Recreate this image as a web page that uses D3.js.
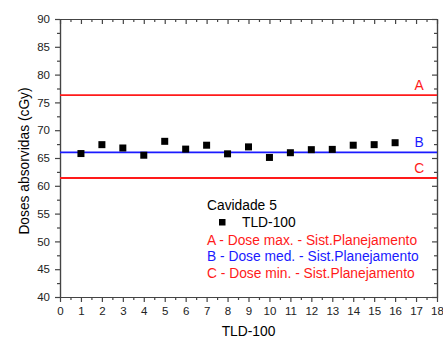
<!DOCTYPE html>
<html>
<head>
<meta charset="utf-8">
<script src="https://cdn.jsdelivr.net/npm/d3@7"></script>
<style>
  body { margin: 0; background: #fff; }
  svg { font-family: "Liberation Sans", Arial, sans-serif; }
</style>
</head>
<body>
<svg id="chart" width="443" height="338"></svg>
<script>
// dados
const tldIds = [1, 2, 3, 4, 5, 6, 7, 8, 9, 10, 11, 12, 13, 14, 15, 16];
const tldDoses = [65.8, 67.4, 66.8, 65.5, 68.0, 66.6, 67.3, 65.75, 67.0, 65.1, 65.95, 66.5, 66.55, 67.3, 67.4, 67.75];
const refLabels = ['A', 'B', 'C'];
const refDoses = [76.3, 66.0, 61.4];
const refColors = ['#ff1a1a', '#1a1aff', '#ff1a1a'];
const legendLines = [
  'A - Dose max. - Sist.Planejamento',
  'B - Dose med. - Sist.Planejamento',
  'C - Dose min. - Sist.Planejamento'
];
const xTicks = d3.range(0, 19, 1);
const yTicks = d3.range(40, 91, 5);

const svg = d3.select('#chart');
const margin = { left: 60, right: 6, top: 19, bottom: 41 };
const width = 443, height = 338;

const x = d3.scaleLinear().domain([0, 18]).range([margin.left, width - margin.right]);
const y = d3.scaleLinear().domain([40, 90]).range([height - margin.bottom, margin.top]);

const axisColor = '#444';
const fs = '13.8px';

// eixos
const xMinor = d3.range(0.5, 18, 1);
const yMinor = d3.range(42.5, 90, 5);

svg.append('g')
  .attr('transform', `translate(0,${y(40)})`)
  .call(d3.axisBottom(x).tickValues(xTicks).tickSize(5).tickSizeOuter(0).tickPadding(5));
svg.append('g')
  .attr('transform', `translate(0,${y(40)})`)
  .call(d3.axisBottom(x).tickValues(xMinor).tickSize(3).tickSizeOuter(0).tickFormat(''));
svg.append('g')
  .attr('transform', `translate(0,${y(90)})`)
  .call(d3.axisBottom(x).tickValues(xTicks).tickSize(5).tickSizeOuter(0).tickFormat(''));
svg.append('g')
  .attr('transform', `translate(0,${y(90)})`)
  .call(d3.axisBottom(x).tickValues(xMinor).tickSize(3).tickSizeOuter(0).tickFormat(''));

svg.append('g')
  .attr('transform', `translate(${x(0)},0)`)
  .call(d3.axisLeft(y).tickValues(yTicks).tickSize(5).tickSizeOuter(0).tickPadding(5));
svg.append('g')
  .attr('transform', `translate(${x(0)},0)`)
  .call(d3.axisLeft(y).tickValues(yMinor).tickSize(3).tickSizeOuter(0).tickFormat(''));
svg.append('g')
  .attr('transform', `translate(${x(18)},0)`)
  .call(d3.axisLeft(y).tickValues(yTicks).tickSize(5).tickSizeOuter(0).tickFormat(''));
svg.append('g')
  .attr('transform', `translate(${x(18)},0)`)
  .call(d3.axisLeft(y).tickValues(yMinor).tickSize(3).tickSizeOuter(0).tickFormat(''));

svg.selectAll('.domain, .tick line').attr('stroke', axisColor).attr('stroke-width', 1.2);
svg.selectAll('.tick text').attr('fill', '#222').style('font-size', '11.5px');

// linhas de referência
refDoses.forEach((d, i) => {
  svg.append('line')
    .attr('x1', x(0)).attr('x2', x(18))
    .attr('y1', y(d)).attr('y2', y(d))
    .attr('stroke', refColors[i]).attr('stroke-width', 1.8);
  svg.append('text')
    .attr('x', x(17.15)).attr('y', y(d) - 5)
    .attr('text-anchor', 'middle')
    .attr('fill', refColors[i])
    .style('font-size', fs)
    .text(refLabels[i]);
});

// pontos TLD
svg.append('g').selectAll('rect')
  .data(tldIds)
  .join('rect')
  .attr('x', (d) => x(d) - 3.5)
  .attr('y', (d, i) => y(tldDoses[i]) - 3.5)
  .attr('width', 7).attr('height', 7)
  .attr('fill', '#000');

// legenda
const lg = svg.append('g').style('font-size', fs);
lg.append('text').attr('x', 207).attr('y', 210).attr('fill', '#000').text('Cavidade 5');
lg.append('rect').attr('x', 219).attr('y', 219).attr('width', 6.5).attr('height', 6.5).attr('fill', '#000');
lg.append('text').attr('x', 242).attr('y', 227).attr('fill', '#000').text('TLD-100');
legendLines.forEach((t, i) => {
  lg.append('text')
    .attr('x', 207).attr('y', 244.5 + i * 16.8)
    .attr('fill', refColors[i])
    .text(t);
});

// títulos dos eixos
svg.append('text')
  .attr('x', (x(0) + x(18)) / 2).attr('y', 336)
  .attr('text-anchor', 'middle')
  .style('font-size', fs)
  .text('TLD-100');
svg.append('text')
  .attr('transform', 'translate(29,161) rotate(-90)')
  .attr('text-anchor', 'middle')
  .style('font-size', fs)
  .text('Doses absorvidas (cGy)');
</script>
</body>
</html>
